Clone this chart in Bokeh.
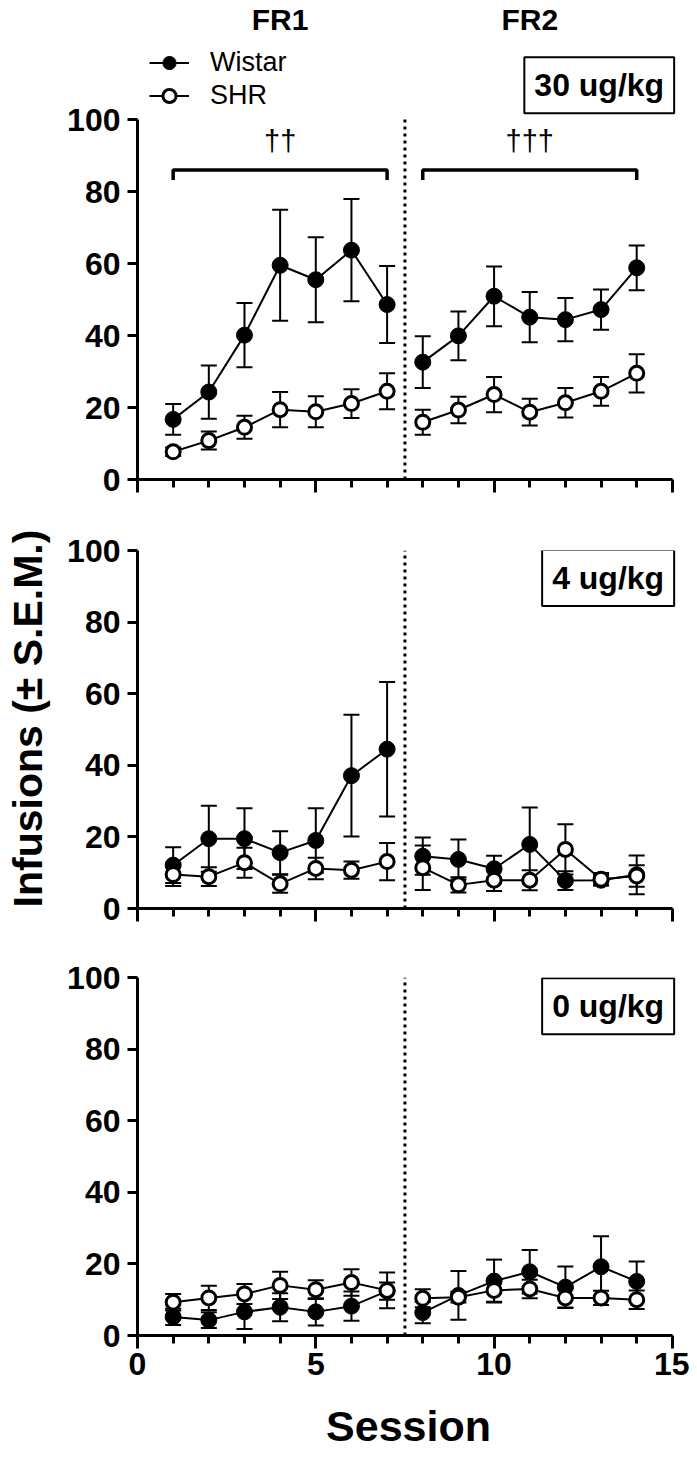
import math
from bokeh.plotting import figure
from bokeh.layouts import column, row
from bokeh.models import (Range1d, Label, Whisker, TeeHead, ColumnDataSource,
                          Legend, LegendItem, FixedTicker)
from bokeh.embed import file_html
from bokeh.resources import INLINE

# ---------------- data ----------------
sessions = list(range(1, 15))
phase_labels = ["FR1", "FR2"]
phase_boundary = 7.5
n_fr1 = 7
groups = ["Wistar", "SHR"]
doses = ["30 ug/kg", "4 ug/kg", "0 ug/kg"]
sig_marks = ["††", "†††"]
x_ticks = [0, 5, 10, 15]
y_ticks = [0, 20, 40, 60, 80, 100]
y_title = "Infusions (± S.E.M.)"
x_title = "Session"

wistar_30 = [16.7, 24.3, 40.1, 59.5, 55.5, 63.7, 48.6, 32.6, 39.9, 50.9, 45.1, 44.4, 47.2, 58.8]
wistar_30_sem = [4.3, 7.4, 8.9, 15.4, 11.8, 14.2, 10.7, 7.2, 6.8, 8.3, 7.0, 6.0, 5.6, 6.2]
shr_30 = [7.7, 10.8, 14.5, 19.4, 18.8, 21.1, 24.5, 15.9, 19.3, 23.6, 18.7, 21.3, 24.5, 29.5]
shr_30_sem = [1.2, 2.5, 3.2, 4.9, 4.3, 4.0, 5.0, 3.5, 3.7, 4.9, 3.7, 4.1, 4.0, 5.3]

wistar_4 = [12.1, 19.5, 19.5, 15.6, 19.0, 37.1, 44.5, 14.6, 13.7, 11.1, 17.9, 7.8, 7.9, 9.4]
wistar_4_sem = [5.0, 9.2, 8.5, 6.0, 9.0, 17.0, 18.8, 5.2, 5.6, 3.6, 10.3, 2.6, 1.5, 5.4]
shr_4 = [9.5, 8.9, 12.8, 6.9, 11.2, 10.7, 13.1, 11.4, 6.6, 7.9, 7.9, 16.5, 8.2, 9.1]
shr_4_sem = [3.2, 2.6, 4.2, 2.5, 3.0, 2.4, 5.2, 6.2, 2.1, 3.0, 2.8, 7.0, 1.7, 3.0]

wistar_0 = [5.2, 4.3, 6.6, 7.9, 6.6, 8.2, 12.4, 6.4, 11.2, 15.2, 17.8, 13.5, 19.2, 15.1]
wistar_0_sem = [2.3, 2.2, 4.8, 3.9, 3.8, 4.1, 2.4, 3.0, 6.8, 6.0, 6.1, 5.8, 8.5, 5.6]
shr_0 = [9.3, 10.5, 11.6, 14.0, 12.8, 14.8, 12.6, 10.4, 10.7, 12.6, 13.0, 10.5, 10.5, 10.0]
shr_0_sem = [2.3, 3.4, 2.8, 3.8, 2.6, 3.7, 5.0, 2.5, 1.5, 3.2, 2.6, 2.7, 2.0, 2.6]

# ---------------- layout / style constants ----------------
FONT = "Liberation Sans"
LABEL_W = 52          # width of the strip holding the y title
PANEL_W = 637
FRAME_LEFT = 85
FRAME_RIGHT = 10
X_MAX = 15.2
TOTAL_H = 1467


def style_axes(p, show_xlabels):
    xa = p.xaxis[0]
    ya = p.yaxis[0]
    xa.ticker = FixedTicker(ticks=x_ticks,
                            minor_ticks=[s for s in sessions if s not in x_ticks])
    ya.ticker = FixedTicker(ticks=y_ticks, minor_ticks=[])
    xa.bounds = (x_ticks[0], x_ticks[-1])
    ya.bounds = (y_ticks[0], y_ticks[-1])
    for ax in (xa, ya):
        ax.axis_line_width = 3
        ax.axis_line_color = "black"
        ax.major_tick_line_width = 3
        ax.minor_tick_line_width = 3
        ax.major_tick_line_color = "black"
        ax.minor_tick_line_color = "black"
        ax.major_tick_in = 0
        ax.minor_tick_in = 0
        ax.major_label_text_font = FONT
        ax.major_label_text_font_style = "bold"
        ax.major_label_text_font_size = "32px"
        ax.major_label_text_color = "black"
    xa.major_tick_out = 13
    xa.minor_tick_out = 8
    ya.major_tick_out = 10
    ya.minor_tick_out = 0
    ya.major_label_standoff = 7
    xa.major_label_standoff = 4
    if not show_xlabels:
        xa.major_label_overrides = {t: "" for t in x_ticks}


def panel(wm, ws, sm, ss, dose, height, b_top, b_bottom, ymax, box_y, show_xlabels):
    p = figure(width=PANEL_W, height=height, x_range=Range1d(0, X_MAX), y_range=Range1d(0, ymax),
               output_backend="svg", toolbar_location=None,
               min_border_left=FRAME_LEFT, min_border_right=FRAME_RIGHT,
               min_border_top=b_top, min_border_bottom=b_bottom)
    p.outline_line_color = None
    p.grid.visible = False
    p.background_fill_color = "white"
    p.border_fill_color = "white"
    style_axes(p, show_xlabels)

    # phase separator
    p.segment(x0=[phase_boundary], y0=[y_ticks[0]], x1=[phase_boundary], y1=[y_ticks[-1]],
              line_color="black", line_width=3, line_dash="3 4")

    rends = {}
    for name, m, s, fill, lw, size in (("Wistar", wm, ws, "black", 1, 16),
                                       ("SHR", sm, ss, "white", 3, 14)):
        src = ColumnDataSource(dict(x=sessions, y=m,
                                    upper=[a + b for a, b in zip(m, s)],
                                    lower=[a - b for a, b in zip(m, s)]))
        wh = Whisker(base="x", upper="upper", lower="lower", source=src,
                     line_width=2, line_color="black",
                     upper_head=TeeHead(size=16, line_width=2, line_color="black"),
                     lower_head=TeeHead(size=16, line_width=2, line_color="black"))
        p.add_layout(wh)
        l1 = p.line(sessions[:n_fr1], m[:n_fr1], line_color="black", line_width=2)
        p.line(sessions[n_fr1:], m[n_fr1:], line_color="black", line_width=2)
        sc = p.scatter(x="x", y="y", source=src, marker="circle", size=size,
                       fill_color=fill, line_color="black", line_width=lw)
        rends[name] = (l1, sc)

    box = Label(x=15.05, y=box_y, text=dose, text_align="right", text_baseline="middle",
                text_font=FONT, text_font_style="bold", text_font_size="32px",
                text_color="black", border_line_color="black", border_line_width=2,
                background_fill_color="white", padding=10)
    p.add_layout(box)
    return p, rends


TOP_YMAX = 479 / 3.6
p1, r1 = panel(wistar_30, wistar_30_sem, shr_30, shr_30_sem, doses[0],
               530, 0, 51, TOP_YMAX, 109.5, False)
p2, r2 = panel(wistar_4, wistar_4_sem, shr_4, shr_4_sem, doses[1],
               427, 20, 49, 100, 92.3, False)
p3, r3 = panel(wistar_0, wistar_0_sem, shr_0, shr_0_sem, doses[2],
               510, 20, 132, 100, 92.0, True)

# phase titles, significance brackets (top panel)
fr_groups = [sessions[:n_fr1], sessions[n_fr1:]]
for lab, sg, mark in zip(phase_labels, fr_groups, sig_marks):
    cx = (sg[0] + sg[-1]) / 2
    p1.add_layout(Label(x=cx, y=TOP_YMAX - 19 / 3.6, text=lab, text_align="center",
                        text_baseline="middle",
                        text_font=FONT, text_font_style="bold", text_font_size="30px",
                        text_color="black"))
    p1.line([sg[0], sg[0], sg[-1], sg[-1]], [83.2, 86, 86, 83.2],
            line_color="black", line_width=3.5)
    p1.add_layout(Label(x=cx, y=94, text=mark, text_align="center", text_baseline="middle",
                        text_font=FONT, text_font_size="29px", text_color="black"))

legend = Legend(items=[LegendItem(label=g, renderers=list(r1[g])) for g in groups],
                location=(12, 367), orientation="vertical",
                glyph_width=40, glyph_height=33, label_height=33, label_standoff=21,
                spacing=0, padding=0, margin=0,
                label_text_font=FONT, label_text_font_size="27px", label_text_color="black",
                label_text_baseline="middle",
                border_line_color=None, background_fill_alpha=0)
p1.add_layout(legend)

xa = p3.xaxis[0]
xa.axis_label = x_title
xa.axis_label_text_font = FONT
xa.axis_label_text_font_style = "bold"
xa.axis_label_text_font_size = "43px"
xa.axis_label_text_color = "black"
xa.axis_label_standoff = 24

# strip on the left carrying the shared y title
lab_fig = figure(width=LABEL_W, height=TOTAL_H, x_range=Range1d(0, LABEL_W),
                 y_range=Range1d(0, TOTAL_H), x_axis_location=None, y_axis_location=None,
                 output_backend="svg", toolbar_location=None, min_border=0)
lab_fig.outline_line_color = None
lab_fig.grid.visible = False
lab_fig.add_layout(Label(x=27, y=TOTAL_H - 718, text=y_title, angle=math.pi / 2,
                         text_align="center", text_baseline="middle",
                         text_font=FONT, text_font_style="bold", text_font_size="41px",
                         text_color="black"))

layout = row(lab_fig, column(p1, p2, p3, spacing=0), spacing=0)
open("out.html", "w").write(file_html(layout, INLINE))
